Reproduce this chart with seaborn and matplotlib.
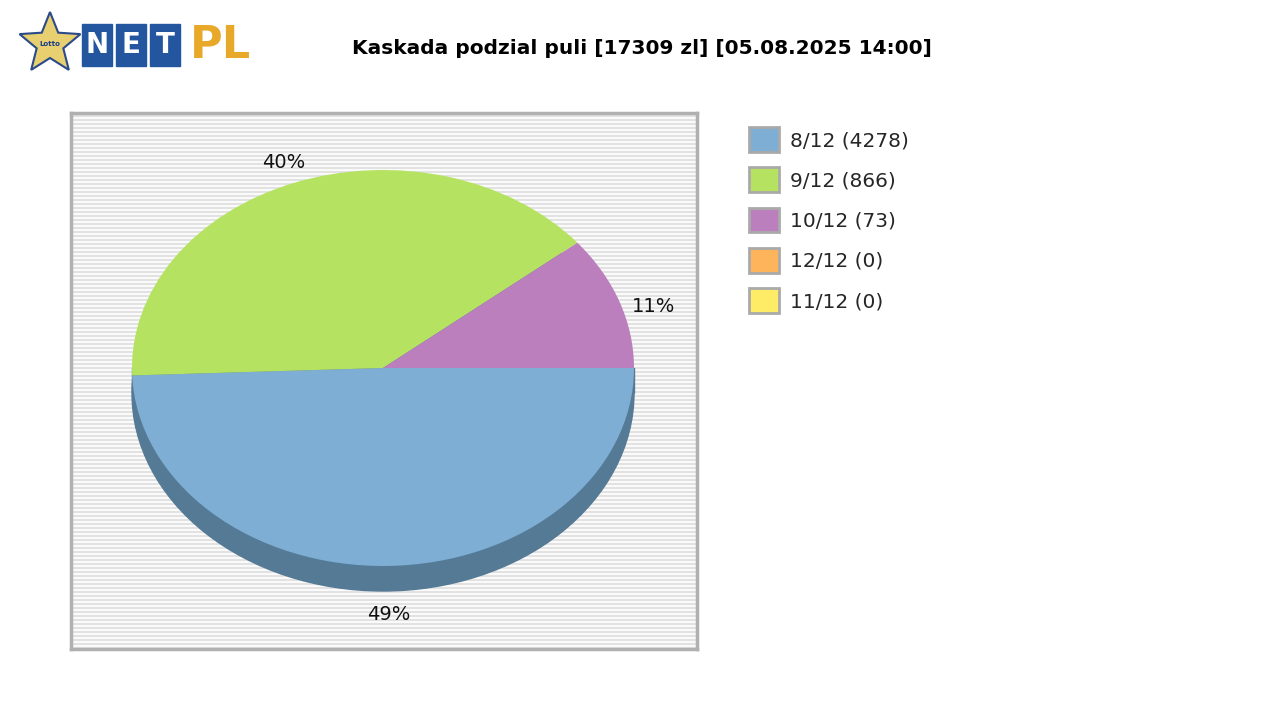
import matplotlib
matplotlib.use("Agg")
import matplotlib.pyplot as plt
import seaborn as sns
from matplotlib.patches import Patch, Rectangle, Polygon, Ellipse
import numpy as np

sns.set_style("white")
plt.rcParams['font.family'] = ['DejaVu Sans']

legend_labels = ["8/12 (4278)", "9/12 (866)", "10/12 (73)", "12/12 (0)", "11/12 (0)"]
shares = [49.4, 39.7, 10.9, 0.0, 0.0]
pct_labels = ["49%", "40%", "11%"]
colors = sns.color_palette(["#7eaed4", "#b5e261", "#bc7fbd", "#feb45a", "#feeb66"])
title = "Kaskada podzial puli [17309 zl] [05.08.2025 14:00]"

fig = plt.figure(figsize=(12.8, 7.2), dpi=100)
fig.patch.set_facecolor("white")

ax = fig.add_axes([71/1280, (720-649)/720, 626/1280, 536/720])
k = 251 / 198
ys = 536 * k
ax.set_facecolor("#fafafa")
for y in range(0, 536, 4):
    ax.axhspan(y * k, (y + 2) * k, color="#e2e2e2", lw=0, zorder=0)
cx, cy = 383 - 71, (649 - 368) * k
ax.add_patch(Ellipse((cx, cy - 25 * k), 502, 502, color="#557a96", zorder=1))
ax.add_patch(Rectangle((cx - 251, cy - 25 * k), 502, 25 * k, color="#557a96", zorder=1))
wedges, _ = ax.pie(shares[:3], colors=colors[:3], startangle=0, counterclock=False,
                   center=(cx, cy), radius=251, frame=True,
                   wedgeprops=dict(linewidth=0))
for w in wedges:
    w.set_zorder(2)
ax.set_aspect("auto")
ax.set_xlim(0, 626); ax.set_ylim(0, ys)
ax.set_xticks([]); ax.set_yticks([])
for s in ax.spines.values():
    s.set_color("#b0b0b0"); s.set_linewidth(2.5)
lab_pos = [(389 - 71, (649 - 614) * k), (284 - 71, (649 - 162) * k), (654 - 71, (649 - 306) * k)]
for t, (x, y) in zip(pct_labels, lab_pos):
    ax.text(x, y, t, ha="center", va="center", fontsize=14, color="#111111")

fig.text(642 / 1280, 1 - 48 / 720, title, ha="center", va="center", fontsize=14.5,
         fontweight="bold", color="black")

handles = [Patch(facecolor=c, edgecolor="#aaaaaa", linewidth=2) for c in colors]
fig.legend(handles, legend_labels, loc="upper left", bbox_to_anchor=(735 / 1280, 1 - 113 / 720),
           frameon=False, fontsize=14.5, handlelength=1.5, handleheight=1.5, labelspacing=0.78,
           handletextpad=0.55, borderaxespad=0.3)

lg = fig.add_axes([0, 1 - 80 / 720, 280 / 1280, 80 / 720])
lg.set_xlim(0, 280); lg.set_ylim(80, 0); lg.axis("off")
ang = np.linspace(np.pi / 2, np.pi / 2 + 2 * np.pi, 11)[:-1]
r = np.where(np.arange(10) % 2 == 0, 32, 14)
lg.add_patch(Polygon(np.c_[50 + r * np.cos(ang), 44 - r * np.sin(ang)], color="#e8d070", ec="#2a4a8a", lw=1.5))
lg.text(50, 44, "Lotto", ha="center", va="center", fontsize=5, color="#1a3a8a", fontweight="bold")
for i, ch in enumerate("NET"):
    x0 = 82 + i * 34
    lg.add_patch(Rectangle((x0, 24), 30, 42, color="#2456a0"))
    lg.text(x0 + 15, 45, ch, ha="center", va="center", fontsize=20, color="white", fontweight="bold")
lg.text(190, 45, "PL", ha="left", va="center", fontsize=32, color="#e8a82a", fontweight="bold")

fig.savefig("out.png", dpi=100)
